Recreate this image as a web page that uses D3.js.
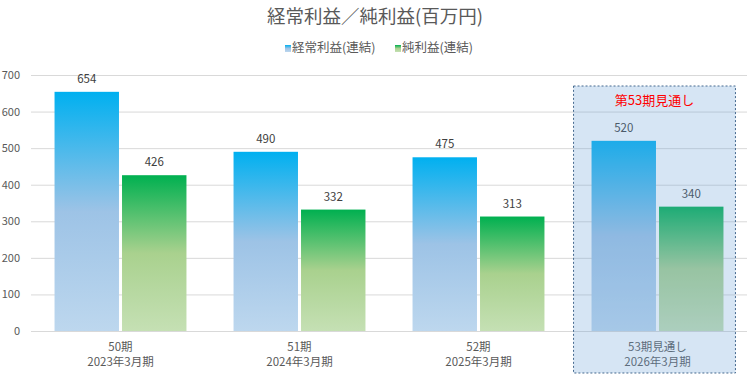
<!DOCTYPE html>
<html>
  <head>
    <meta charset="utf-8" />
    <title>経常利益／純利益</title>
    <style>
      body { margin: 0; background: #fff; }
      svg { display: block; font-family: "Noto Sans CJK JP", "Noto Sans", sans-serif; }
      .grid line { stroke: #d9d9d9; }
      .grid path { display: none; }
      .value { fill: #404040; font-size: 11.5px; }
    </style>
  </head>
  <body>
    <div id="chart"></div>
    <script src="https://d3js.org/d3.v7.min.js"></script>
    <script>
      // data
      const periods = ["50期", "51期", "52期", "53期見通し"];
      const fiscalYears = ["2023年3月期", "2024年3月期", "2025年3月期", "2026年3月期"];
      const seriesNames = ["経常利益(連結)", "純利益(連結)"];
      const ordinaryProfit = [654, 490, 475, 520];
      const netProfit = [426, 332, 313, 340];
      const yTicks = [0, 100, 200, 300, 400, 500, 600, 700];

      const width = 750, height = 377;
      const plot = { left: 31, right: 747, top: 75, bottom: 331 };

      const svg = d3.select("#chart").append("svg")
        .attr("width", width)
        .attr("height", height);

      const defs = svg.append("defs");
      const gradients = [
        { id: "gBlue", stops: ["#00b0f0", "#9dc3e6", "#bdd7ee"] },
        { id: "gGreen", stops: ["#00b050", "#a9d18e", "#c5e0b4"] }
      ];
      gradients.forEach(g => {
        const lg = defs.append("linearGradient")
          .attr("id", g.id)
          .attr("x1", 0).attr("y1", 0).attr("x2", 0).attr("y2", 1);
        lg.append("stop").attr("offset", "0%").attr("stop-color", g.stops[0]);
        lg.append("stop").attr("offset", "50%").attr("stop-color", g.stops[1]);
        lg.append("stop").attr("offset", "100%").attr("stop-color", g.stops[2]);
      });

      const x0 = d3.scaleBand()
        .domain(periods)
        .range([plot.left, plot.right])
        .paddingInner(0.263)
        .paddingOuter(0.1315);

      const x1 = d3.scaleBand()
        .domain(seriesNames)
        .range([0, x0.bandwidth()])
        .paddingInner(0.045);

      const y = d3.scaleLinear()
        .domain([0, 700])
        .range([plot.bottom, plot.top]);

      // gridlines
      svg.append("g")
        .attr("class", "grid")
        .attr("transform", `translate(${plot.left},0)`)
        .call(d3.axisLeft(y).tickValues(yTicks).tickSize(-(plot.right - plot.left)).tickFormat(""));

      // y labels
      svg.append("g")
        .selectAll("text")
        .data(yTicks)
        .join("text")
        .attr("x", 20)
        .attr("y", d => y(d) + 4)
        .attr("text-anchor", "end")
        .attr("fill", "#595959")
        .attr("font-size", 11)
        .text(d => d);

      // title
      svg.append("text")
        .attr("x", 375)
        .attr("y", 23)
        .attr("text-anchor", "middle")
        .attr("fill", "#595959")
        .attr("font-size", 18.5)
        .text("経常利益／純利益(百万円)");

      // legend
      const legendX = [285, 395];
      const legend = svg.append("g")
        .selectAll("g")
        .data(seriesNames)
        .join("g")
        .attr("transform", (d, i) => `translate(${legendX[i]},48)`);
      legend.append("rect")
        .attr("x", 0).attr("y", -3)
        .attr("width", 6).attr("height", 7)
        .attr("fill", (d, i) => `url(#${gradients[i].id})`);
      legend.append("text")
        .attr("x", 7)
        .attr("y", 4)
        .attr("fill", "#595959")
        .attr("font-size", 12.5)
        .text(d => d);

      // bars
      const rows = periods.map((p, i) => ({ period: p, values: [ordinaryProfit[i], netProfit[i]] }));
      const groups = svg.append("g")
        .selectAll("g")
        .data(rows)
        .join("g")
        .attr("transform", d => `translate(${x0(d.period)},0)`);

      groups.selectAll("rect")
        .data(d => d.values.map((v, i) => ({ name: seriesNames[i], value: v, i })))
        .join("rect")
        .attr("x", d => x1(d.name))
        .attr("y", d => y(d.value))
        .attr("width", x1.bandwidth())
        .attr("height", d => y(0) - y(d.value))
        .attr("fill", d => `url(#${gradients[d.i].id})`);

      groups.selectAll("text.value")
        .data(d => d.values.map((v, i) => ({ name: seriesNames[i], value: v })))
        .join("text")
        .attr("class", "value")
        .attr("x", d => x1(d.name) + x1.bandwidth() / 2)
        .attr("y", d => y(d.value) - 9)
        .attr("text-anchor", "middle")
        .text(d => d.value);

      // x labels
      const xl = svg.append("g")
        .selectAll("text")
        .data(periods)
        .join("text")
        .attr("text-anchor", "middle")
        .attr("fill", "#595959")
        .attr("font-size", 11.5);
      xl.append("tspan").attr("x", d => x0(d) + x0.bandwidth() / 2).attr("y", 351).text(d => d);
      xl.append("tspan").attr("x", d => x0(d) + x0.bandwidth() / 2).attr("y", 366).text((d, i) => fiscalYears[i]);

      // highlight box for the forecast period, laid over the bars
      const last = periods[periods.length - 1];
      const boxX = x0(last) - 18;
      const boxW = x0.bandwidth() + 30;
      svg.append("rect")
        .attr("x", boxX)
        .attr("y", 86)
        .attr("width", boxW)
        .attr("height", 287)
        .attr("fill", "rgba(107,162,216,0.28)")
        .attr("stroke", "#44698f")
        .attr("stroke-width", 1)
        .attr("stroke-dasharray", "2,2");

      svg.append("text")
        .attr("x", boxX + boxW / 2)
        .attr("y", 105)
        .attr("text-anchor", "middle")
        .attr("fill", "#ff0000")
        .attr("font-size", 13)
        .text("第53期見通し");
    </script>
  </body>
</html>
